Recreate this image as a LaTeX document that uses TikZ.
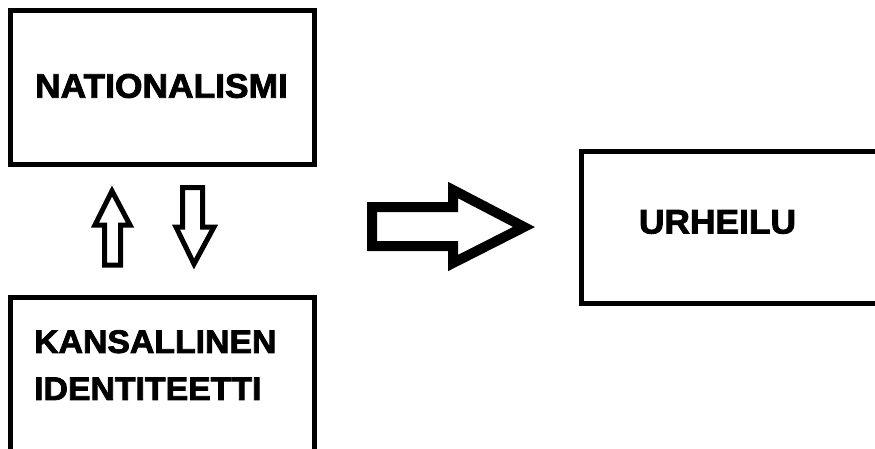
\documentclass[tikz,border=0pt]{standalone}
\usepackage{fontspec}
\setmainfont{Liberation Sans}
\newfontfamily\blk{Liberation Sans}[FakeBold=2.5, FakeStretch=1.04]
\begin{document}
\begin{tikzpicture}[x=1pt,y=-1pt,
  box/.style={draw=black, line width=5pt, minimum width=#1, inner sep=0pt},
  label/.style={font=\blk\bfseries\fontsize{34}{48}\selectfont, inner sep=0pt, text=black},
  blockarrow/.style={draw=black, line width=5pt, line join=miter, fill=white}]
\useasboundingbox[fill=white] (0,0) rectangle (875,448);
% boxes
\node[box=304pt, minimum height=154pt] (nat) at (162,87) {};
\node[label] (nattext) at (161.5,86) {NATIONALISMI};
\node[box=304pt, minimum height=166pt] (kan) at (162,380) {};
\node[label, font=\blk\bfseries\fontsize{32.5}{47}\selectfont, align=left, anchor=north west]
   (kantext) at (34,330) {KANSALLINEN\\IDENTITEETTI};
\node[box=305pt, minimum height=152pt] (urh) at (733.5,227) {};
\node[label] (urhtext) at (717.5,222) {URHEILU};
% up / down arrows between nat and kan
\draw[blockarrow] (104.5,265) -- (104.5,225) -- (95,225) -- (112,191) -- (130,225)
   -- (120.5,225) -- (120.5,265) -- cycle;
\draw[blockarrow] (182.5,187.5) -- (202.5,187.5) -- (202.5,227) -- (214,227)
   -- (194,264) -- (176,227) -- (182.5,227) -- cycle;
% big arrow to urh
\draw[blockarrow, line width=10pt] (372,207) -- (453,207) -- (453,190) -- (524,227)
   -- (453,263) -- (453,246) -- (372,246) -- cycle;
\end{tikzpicture}
\end{document}
